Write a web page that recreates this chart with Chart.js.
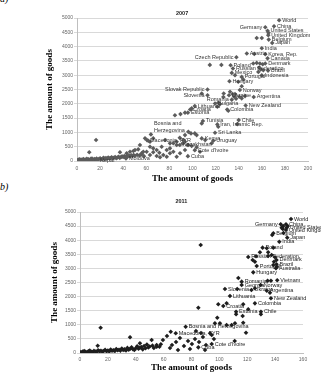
<!DOCTYPE html>
<html>
<head>
<meta charset="utf-8">
<script src="https://cdn.jsdelivr.net/npm/chart.js@4.4.0/dist/chart.umd.min.js"></script>
<style>
  body { margin: 0; background: #fff; width: 321px; height: 374px; position: relative; overflow: hidden; }
  .tag { position: absolute; left: 0; font: italic 10px "Liberation Serif", serif; color: #000; }
  canvas { position: absolute; left: 0; }
  #chartA { top: 0; }
  #chartB { top: 185px; }
</style>
</head>
<body>
<div class="tag" style="top:-7px">a)</div>
<div class="tag" style="top:181px">b)</div>
<canvas id="chartA" width="321" height="185"></canvas>
<canvas id="chartB" width="321" height="189"></canvas>
<script>
// axis ticks
const yTicks = [0, 500, 1000, 1500, 2000, 2500, 3000, 3500, 4000, 4500, 5000];
const xTicks2007 = [0, 20, 40, 60, 80, 100, 120, 140, 160, 180, 200];
const xTicks2011 = [0, 20, 40, 60, 80, 100, 120, 140, 160];

// 2007 - labelled countries
const countries2007 = ['World', 'Germany', 'China', 'United States', 'United Kingdom', 'Belgium', 'Japan', 'India',
  'Korea, Rep.', 'Canada', 'Austria', 'Czech Republic', 'Denmark', 'Poland', 'Russian Federation', 'Brazil',
  'Mexico', 'Indonesia', 'Portugal', 'Hungary', 'Slovak Republic', 'Norway', 'Slovenia', 'Romania', 'Ukraine',
  'Argentina', 'Lithuania', 'Bulgaria', 'New Zealand', 'Croatia', 'Colombia', 'Estonia', 'Tunisia', 'Chile',
  'Iran, Islamic Rep.', 'Bosnia and\nHerzegovina', 'Sri Lanka', 'Macedonia, FYR', 'Kenya', 'Uruguay', 'Kazakhstan',
  "Cote d'Ivoire", 'Cuba', 'Nepal', 'Moldova'];
const countryX2007 = [175, 163, 170.6, 165, 165.6, 166, 169, 160, 163, 165, 147, 138, 163, 133, 135, 165.4,
  134, 160, 142.6, 132, 113, 141, 113, 134, 131.6, 153, 102, 119.5, 146, 98, 130, 96, 109, 140,
  121.5, 64, 119.5, 60.6, 108, 118, 89, 102, 96, 17.3, 42.4];
const countryY2007 = [4920, 4675, 4710, 4550, 4400, 4245, 4130, 3940, 3730, 3590, 3760, 3630, 3410, 3350, 3235, 3160,
  3080, 3000, 2940, 2790, 2500, 2480, 2300, 2145, 2300, 2240, 1920, 2010, 1940, 1800, 1800, 1690, 1400, 1430,
  1280, 930, 990, 730, 790, 710, 560, 380, 170, 35, 87];

// 2007 - other countries
const otherX2007 = [155.6, 160, 165.8, 152.6, 155.6, 158.4, 160.8, 153.5, 157.8, 159, 161.3, 157, 136.8, 144, 139.6,
  142.6, 136.8, 127, 126.7, 115, 125, 108, 132.5, 134.8, 136, 137.7, 140.5, 142.6, 145.5, 99.3, 93.5, 89.6, 84.8,
  122.3, 123.8, 121.5, 131, 108, 138.8, 122.3, 96.4, 98.7, 102, 93.5, 103.6, 89, 92, 86.3, 83.4, 111, 116.6, 96.4,
  99.3, 103.6, 106.5, 16.5, 10.6, 37.2, 43, 48.8, 53, 56, 60.3, 63.2, 66, 69, 71.3, 58.9, 61.7, 54.5, 50.2, 45.9,
  63.2, 66, 57.4, 69, 73.3, 77.7, 80.5, 74.7, 63.2, 66, 76.2, 80.5, 86.3, 91.5, 93.5, 95.5, 80.5, 83.4, 89.2, 93.5,
  86.3, 77.7, 71.9,
  0.5, 1, 1.5, 2, 3, 3.5, 4, 5, 5.5, 6, 7, 8, 8.5, 9, 10, 11, 12, 12.5, 13, 14, 15, 16, 17, 18, 19, 20, 21, 22, 23,
  24, 25, 26, 27, 28, 29, 30, 31, 32, 33, 34, 35, 36, 37, 38, 39, 40, 41, 42, 43, 44, 45, 46, 47, 48, 49, 50, 52,
  54, 56, 58];
const otherY2007 = [4300, 4300, 4480, 3410, 3430, 3410, 3385, 3745, 3270, 3200, 3175, 3115, 3000, 2850, 2770,
  2615, 2340, 2360, 2240, 3360, 3360, 2360, 2420, 2340, 2245, 2175, 2245, 2190, 2270, 1840, 1690, 1640, 1600,
  2035, 1990, 1895, 1755, 1315, 1290, 1200, 1020, 965, 965, 905, 905, 810, 730, 675, 620, 730, 620, 560,
  525, 480, 325, 733, 304, 304, 269, 349, 408, 269, 325, 209, 304, 174, 290, 792, 708, 558, 384, 325,
  500, 443, 325, 384, 500, 384, 269, 209, 674, 792, 733, 618, 558, 618, 674, 558, 443, 325, 269, 384,
  150, 150, 129,
  20, 40, 10, 60, 30, 50, 15, 45, 70, 25, 55, 35, 80, 40, 60, 30, 75, 50, 90, 45, 65, 55, 85, 40, 70, 95, 60, 80, 110,
  75, 100, 90, 120, 85, 105, 130, 95, 115, 140, 100, 125, 150, 110, 135, 160, 145, 170, 130, 180, 155, 190, 165,
  200, 175, 210, 185, 220, 195, 230, 170];

// 2011 - labelled countries
const countries2011 = ['World', 'Germany', 'China', 'United States', 'United Kingdom', 'Belgium', 'Japan', 'India',
  'Poland', 'Russian Federation', 'Denmark', 'Brazil', 'Portugal', 'Australia', 'Hungary', 'Vietnam', 'Romania',
  'Georgia', 'Norway', 'Slovenia', 'Ukraine', 'Argentina', 'Lithuania', 'New Zealand', 'Colombia', 'Croatia',
  'Estonia', 'Chile', 'Bosnia and Herzegovina', 'Macedonia, FYR', "Cote d'Ivoire", 'Cuba'];
const countryX2011 = [151.4, 144, 147.8, 148.3, 147.8, 138.7, 148.7, 143, 131, 120.7, 141, 141, 126.8, 140.6, 124.3,
  141.5, 116, 116, 129.6, 104, 123, 134, 107.6, 137, 125.5, 102.8, 112, 129.8, 75.8, 68.7, 94.5, 84.9];
const countryY2011 = [4750, 4565, 4565, 4445, 4360, 4245, 4090, 3945, 3735, 3405, 3300, 3145, 3085, 3005, 2860,
  2580, 2530, 2410, 2410, 2270, 2235, 2210, 2020, 1940, 1760, 1665, 1465, 1465, 930, 700, 319, 200];

// 2011 - other countries
const otherX2011 = [86.6, 149, 145.5, 137.9, 146, 144.7, 145.8, 134, 138.7, 129.1, 135, 126.3, 135, 137.5, 139.9,
  139.2, 138.7, 141.1, 125.5, 123.9, 113.6, 134.6, 137, 112.8, 125.5, 136.3, 99.2, 105.2, 117.1, 120.7, 84.9, 112,
  129.8, 98.5, 116.7, 117.1, 96.8, 100.4, 105.2, 108.8, 111.2, 65.1, 119.1, 93.3, 94.5, 111, 14.8, 12.7, 35.9,
  59.5, 62.4, 66, 68.9, 71.7, 74.6, 77.5, 80.3, 82.5, 85.4, 88.2, 90.4, 78.9, 70.3, 64.6, 89.7, 96.1, 86.8, 83.2,
  43, 51.4, 55,
  0.5, 1, 2, 2.5, 3, 4, 5, 6, 6.5, 7, 8, 9, 10, 11, 12, 13, 14, 15, 16, 17, 18, 19, 20, 21, 22, 23, 24, 25, 26, 27,
  28, 29, 30, 31, 32, 33, 34, 35, 36, 37, 38, 39, 40, 41, 42, 43, 44, 45, 46, 47, 48, 49, 50, 52, 53, 55, 57, 58];
const otherY2011 = [3830, 4500, 4400, 4185, 4255, 4445, 4500, 3713, 3734, 3571, 3571, 3429, 3440, 3475, 3394,
  3237, 3120, 3060, 3237, 3298, 2660, 2564, 2564, 2270, 2294, 2138, 1727, 1762, 1727, 1550, 1606, 1372,
  1372, 1252, 1312, 1074, 1053, 1053, 993, 993, 1053, 755, 720, 699, 638, 425, 897, 259, 557,
  461, 603, 284, 390, 532, 248, 426, 319, 496, 390, 567, 284, 142, 106, 177, 106, 496, 709, 780,
  344, 461, 223,
  30, 15, 50, 25, 70, 40, 20, 60, 35, 90, 45, 30, 75, 55, 40, 95, 60, 80, 50, 70, 110, 65, 90, 55, 120, 80, 100, 70,
  140, 95, 115, 85, 160, 105, 130, 90, 180, 120, 150, 200, 135, 110, 170, 240, 150, 190, 210, 130, 250, 170, 300,
  200, 230, 260, 180, 280, 220, 310];

const toPoints = (xs, ys) => xs.map((x, i) => ({ x: x, y: ys[i] }));

const pointLabels = {
  id: 'pointLabels',
  afterDatasetsDraw(chart, args, opts) {
    const ctx = chart.ctx;
    const meta = chart.getDatasetMeta(0);
    const names = opts.names;
    ctx.save();
    ctx.font = '5.5px "Liberation Sans", Arial, sans-serif';
    ctx.fillStyle = opts.color;
    ctx.textBaseline = 'middle';
    meta.data.forEach((pt, i) => {
      const lines = names[i].split('\n');
      const left = opts.left.includes(names[i]);
      ctx.textAlign = left ? 'right' : 'left';
      const dx = left ? -3 : 3;
      if (lines.length > 1) {
        lines.forEach((l, j) => ctx.fillText(l, pt.x + dx, pt.y - 4 - (lines.length - 1 - j) * 6.5));
      } else {
        ctx.fillText(lines[0], pt.x + dx, pt.y);
      }
    });
    const area = chart.chartArea;
    ctx.font = 'bold 5.5px "Liberation Sans", Arial, sans-serif';
    ctx.fillStyle = '#222';
    ctx.textAlign = 'center';
    ctx.fillText(opts.year, area.left + area.width * 0.455, area.top - opts.yearOffset);
    ctx.restore();
  }
};

function makeChart(id, cfg) {
  return new Chart(document.getElementById(id), {
    type: 'scatter',
    data: {
      datasets: [{
        data: toPoints(cfg.cx, cfg.cy),
        backgroundColor: cfg.color,
        borderWidth: 0,
        pointStyle: 'rectRot',
        pointRadius: 2.3
      }, {
        data: toPoints(cfg.ox, cfg.oy),
        backgroundColor: cfg.color,
        borderWidth: 0,
        pointStyle: 'rectRot',
        pointRadius: 2.3
      }]
    },
    options: {
      responsive: false,
      animation: false,
      devicePixelRatio: 1,
      layout: { padding: { left: 0, right: cfg.padRight, top: cfg.padTop, bottom: 0 } },
      plugins: {
        legend: { display: false },
        tooltip: { enabled: false },
        pointLabels: { names: cfg.names, left: cfg.left, color: cfg.labelColor, year: cfg.year, yearOffset: cfg.yearOffset }
      },
      scales: {
        x: {
          type: 'linear',
          min: 0,
          max: cfg.xMax,
          afterBuildTicks: s => { s.ticks = cfg.xTicks.map(v => ({ value: v })); },
          afterFit: s => { s.height = cfg.xHeight; },
          grid: { display: false, tickLength: 3 },
          border: { color: '#bfbfbf' },
          ticks: { font: { size: 5, family: 'Liberation Sans' }, color: '#666', padding: cfg.xTickPad, maxRotation: 0 },
          title: {
            display: true, text: 'The amount of goods', color: '#000',
            font: { family: 'Liberation Serif', size: 9, weight: 'bold' },
            padding: { top: 0, bottom: 0.6 }
          }
        },
        y: {
          min: 0,
          max: 5000,
          afterBuildTicks: s => { s.ticks = yTicks.map(v => ({ value: v })); },
          afterFit: s => { s.width = cfg.yWidth; },
          grid: { color: '#d9d9d9', tickLength: 3 },
          border: { color: '#bfbfbf' },
          ticks: { font: { size: 5, family: 'Liberation Sans' }, color: '#666', padding: 1, callback: v => String(v) },
          title: {
            display: true, text: 'The amount of goods', color: '#000',
            font: { family: 'Liberation Serif', size: 9, weight: 'bold' },
            padding: { top: cfg.yTitlePad, bottom: 0 }
          }
        }
      }
    },
    plugins: [pointLabels]
  });
}

makeChart('chartA', {
  cx: countryX2007, cy: countryY2007, ox: otherX2007, oy: otherY2007, names: countries2007,
  left: ['Germany', 'Czech Republic', 'Slovak Republic', 'Slovenia', 'Romania'],
  color: '#5c5c5c', labelColor: '#333', year: '2007', yearOffset: 5,
  xMax: 200, xTicks: xTicks2007, padRight: 13, padTop: 18, xHeight: 24, yWidth: 77, xTickPad: 1.5, yTitlePad: 44.6
});

makeChart('chartB', {
  cx: countryX2011, cy: countryY2011, ox: otherX2011, oy: otherY2011, names: countries2011,
  left: ['Germany'],
  color: '#1e1e1e', labelColor: '#222', year: '2011', yearOffset: 11,
  xMax: 160, xTicks: xTicks2011, padRight: 18, padTop: 27, xHeight: 21, yWidth: 80, xTickPad: 0.5, yTitlePad: 49.6
});
</script>
</body>
</html>
